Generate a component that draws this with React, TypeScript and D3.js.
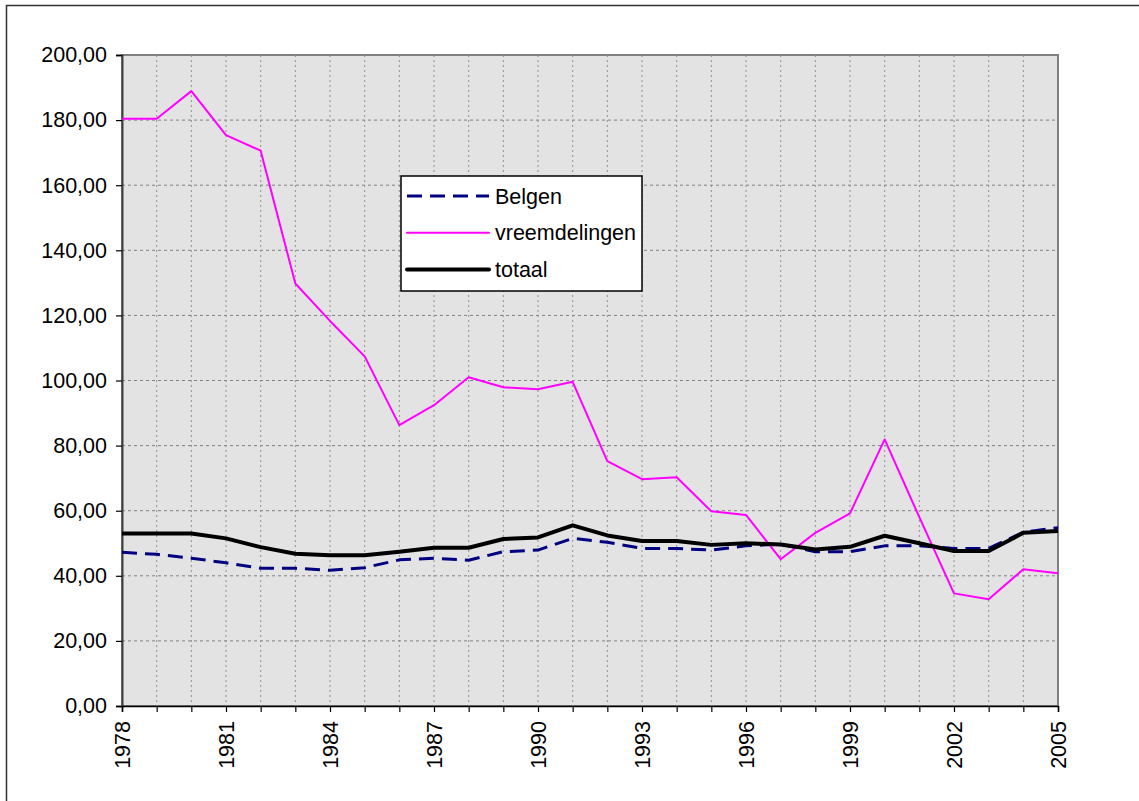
import React, { useEffect, useRef } from "react";
import * as d3 from "d3";

const years = d3.range(1978, 2006);
const yearLabels = [1978, 1981, 1984, 1987, 1990, 1993, 1996, 1999, 2002, 2005];
const yTicks = [0, 20, 40, 60, 80, 100, 120, 140, 160, 180, 200];

const belgen = [
  47.2, 46.6, 45.4, 44.0, 42.3, 42.3, 41.7, 42.5, 44.9, 45.4, 44.8, 47.4, 47.9, 51.5,
  50.3, 48.4, 48.4, 47.9, 49.2, 49.7, 47.4, 47.4, 49.2, 49.2, 48.4, 48.4, 53.4, 54.8,
];
const vreemdelingen = [
  180.4, 180.4, 188.9, 175.4, 170.6, 129.8, 118.3, 107.4, 86.3, 92.4, 101.0, 97.9, 97.3, 99.6,
  75.2, 69.7, 70.3, 59.8, 58.7, 45.1, 53.2, 59.2, 81.9, 58.0, 34.6, 32.8, 42.0, 40.8,
];
const totaal = [
  53.0, 53.0, 53.0, 51.5, 48.8, 46.8, 46.3, 46.3, 47.4, 48.6, 48.6, 51.3, 51.8, 55.5,
  52.4, 50.7, 50.7, 49.5, 50.0, 49.6, 48.1, 48.9, 52.3, 50.0, 47.6, 47.6, 53.2, 53.8,
];

const series = [
  { name: "Belgen", values: belgen, color: "#000080", width: 3, dash: "15,8" },
  { name: "vreemdelingen", values: vreemdelingen, color: "#FF00FF", width: 2, dash: null },
  { name: "totaal", values: totaal, color: "#000000", width: 4, dash: null },
];

const W = 1139;
const H = 801;
const font = "Arial, 'Liberation Sans', sans-serif";

export default function App() {
  const ref = useRef<SVGSVGElement>(null);

  useEffect(() => {
    const svg = d3.select(ref.current);
    svg.selectAll("*").remove();

    const left = 122, right = 1058, top = 55, bottom = 706;
    const x = d3.scaleLinear().domain([1978, 2005]).range([left, right]);
    const y = d3.scaleLinear().domain([0, 200]).range([bottom, top]);

    // outer frame (right/bottom edges fall outside the picture)
    svg.append("rect")
      .attr("x", 6.5).attr("y", 5.5)
      .attr("width", 1300).attr("height", 1000)
      .attr("fill", "#fff").attr("stroke", "#333").attr("stroke-width", 1.5);

    // plot area
    svg.append("rect")
      .attr("x", left).attr("y", top)
      .attr("width", right - left).attr("height", bottom - top)
      .attr("fill", "#e3e3e3").attr("stroke", "#808080").attr("stroke-width", 2);

    // grid
    svg.append("g")
      .selectAll("line")
      .data(yTicks.filter((d) => d > 0 && d < 200))
      .join("line")
      .attr("x1", left).attr("x2", right)
      .attr("y1", (d) => y(d)).attr("y2", (d) => y(d))
      .attr("stroke", "#808080").attr("stroke-width", 1)
      .attr("stroke-dasharray", "3,3");

    svg.append("g")
      .selectAll("line")
      .data(years.filter((d) => d > 1978 && d < 2005))
      .join("line")
      .attr("x1", (d) => x(d)).attr("x2", (d) => x(d))
      .attr("y1", top).attr("y2", bottom)
      .attr("stroke", "#909090").attr("stroke-width", 1)
      .attr("stroke-dasharray", "2,3");

    // y axis
    const yAxis = svg.append("g")
      .attr("transform", `translate(${left},0)`)
      .call(
        d3.axisLeft(y)
          .tickValues(yTicks)
          .tickSize(6)
          .tickPadding(9)
          .tickFormat((d) => d3.format(".2f")(d as number).replace(".", ","))
      );
    yAxis.select(".domain").attr("stroke", "#404040").attr("stroke-width", 2);
    yAxis.selectAll(".tick line").attr("stroke", "#000").attr("stroke-width", 1.2);
    yAxis.selectAll("text")
      .attr("font-family", font).attr("font-size", 21.5).attr("fill", "#000");

    // x axis
    const xAxis = svg.append("g")
      .attr("transform", `translate(0,${bottom})`)
      .call(d3.axisBottom(x).tickValues(years).tickSize(6).tickFormat(() => ""));
    xAxis.select(".domain").attr("stroke", "#000").attr("stroke-width", 1.5);
    xAxis.selectAll(".tick line").attr("stroke", "#000").attr("stroke-width", 1.2);

    svg.append("g")
      .selectAll("text")
      .data(yearLabels)
      .join("text")
      .attr("transform", (d) => `translate(${x(d) + 7.5},${bottom + 15}) rotate(-90)`)
      .attr("text-anchor", "end")
      .attr("font-family", font).attr("font-size", 21.5).attr("fill", "#000")
      .text((d) => d);

    // lines
    const line = d3.line<number>()
      .x((_, i) => x(years[i]))
      .y((d) => y(d));

    series.forEach((s) => {
      svg.append("path")
        .datum(s.values)
        .attr("d", line)
        .attr("fill", "none")
        .attr("stroke", s.color)
        .attr("stroke-width", s.width)
        .attr("stroke-linejoin", "round")
        .attr("stroke-dasharray", s.dash);
    });

    // legend
    const lg = svg.append("g").attr("transform", "translate(401,176)");
    lg.append("rect")
      .attr("width", 241).attr("height", 115)
      .attr("fill", "#fff").attr("stroke", "#000").attr("stroke-width", 1.5);
    series.forEach((s, i) => {
      const ly = 20 + i * 36.7;
      lg.append("line")
        .attr("x1", 6).attr("x2", 88)
        .attr("y1", ly).attr("y2", ly)
        .attr("stroke", s.color)
        .attr("stroke-width", s.width)
        .attr("stroke-linecap", s.dash ? "butt" : "round")
        .attr("stroke-dasharray", s.dash);
      lg.append("text")
        .attr("x", 94).attr("y", ly + 7.5)
        .attr("font-family", font).attr("font-size", 21.5).attr("fill", "#000")
        .text(s.name);
    });
  }, []);

  return (
    <svg
      ref={ref}
      width={W}
      height={H}
      style={{ position: "absolute", left: 0, top: 0, background: "#fff" }}
    />
  );
}
